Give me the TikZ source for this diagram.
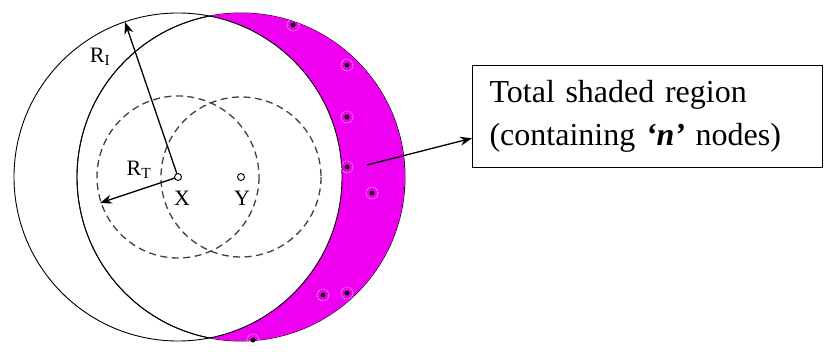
\documentclass[tikz,border=0pt]{standalone}
\usepackage{fontspec}
\setmainfont{Liberation Serif}
\usepackage{tikz}
\usetikzlibrary{positioning,arrows.meta,calc}
\definecolor{lune}{HTML}{F000F0}
\tikzset{
  irange/.style={draw,line width=0.9pt},
  trange/.style={draw=black!75,line width=1.3pt,dash pattern=on 7pt off 4.5pt},
  centre/.style={circle,draw,line width=0.9pt,fill=white,minimum size=7pt,inner sep=0pt},
  sensor/.style={circle,draw=white!75!lune,densely dotted,line width=0.8pt,minimum size=12pt,inner sep=0pt,
    path picture={\fill[black] (path picture bounding box.center) circle (2.5pt);}},
  box/.style={draw,line width=1.1pt,align=left,inner xsep=17pt,anchor=north west,
    minimum width=350pt,minimum height=102pt,text width=316pt,font=\fontsize{32}{43}\selectfont},
  lbl/.style={font=\fontsize{22}{24}\selectfont,inner sep=1pt},
  arr/.style={-{Stealth[length=12pt,width=9pt]},line width=1.3pt},
}
\begin{document}
\begin{tikzpicture}[x=1pt,y=-1pt]
\useasboundingbox (0,0) rectangle (826,352);
\coordinate (X) at (178,177);
\coordinate (Y) at (241,177);
% coverage of the two nodes
\draw[irange] (Y) circle (164);
% shaded region: inside Y's range, outside X's range
\begin{scope}
  \clip (Y) circle (164);
  \fill[lune,even odd rule] (X) circle (164) (Y) circle (164);
\end{scope}
\begin{scope}
  \clip (X) circle (164);
  \draw[irange] (Y) circle (164);
\end{scope}
\draw[irange] (X) circle (164);
% transmission ranges
\draw[trange] (X) circle (81);
\draw[trange] (Y) circle (80);
% radii
\coordinate (rI) at (125,22);
\coordinate (rT) at (100,203);
\draw[arr] (X) -- (rI);
\draw[arr] (X) -- (rT);
\node[lbl] (lI) at (100,57) {R$_{\mathrm{I}}$};
\node[lbl] (lT) at (139,170) {R$_{\mathrm{T}}$};
\node[centre] (nx) at (X) {};
\node[centre] (ny) at (Y) {};
\node[lbl] (tx) at (182,198) {X};
\node[lbl] (ty) at (242,198) {Y};
% nodes in the shaded region
\foreach \px/\py in {293/25,347/65,347/117,347/167,372/193,323/295,347/293,253/340}
  \node[sensor] at (\px,\py) {};
% legend
\coordinate (src) at (367,165);
\node[box] (legend) at (472,65) {Total shaded region\\(containing \textbf{\textit{`n'}} nodes)};
\draw[arr] (src) -- ($(legend.north west)!0.71!(legend.south west)$);
\end{tikzpicture}
\end{document}
